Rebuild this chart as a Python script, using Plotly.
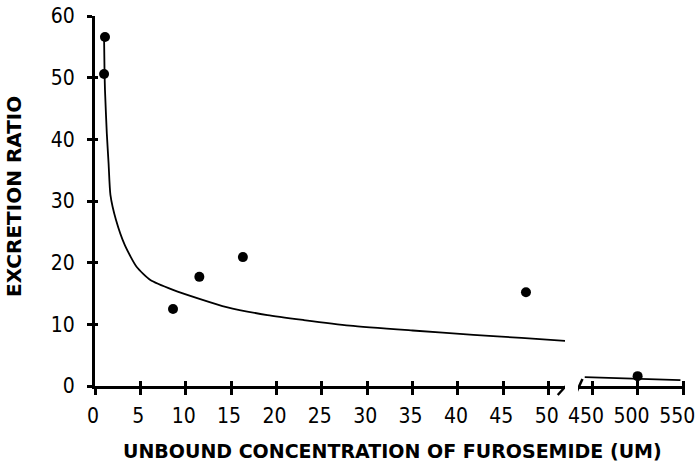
import plotly.graph_objects as go

# ---- data ----
obs_x_low = [1.1, 1.0, 8.6, 11.5, 16.3, 47.5]
obs_y_low = [56.6, 50.6, 12.5, 17.7, 20.9, 15.2]
obs_x_high = [500]
obs_y_high = [1.6]

fit_x_low = [1.0, 1.05, 1.1, 1.3, 1.5, 1.7, 2.3, 3.3, 4.6, 6.1, 8.6, 11.6, 14.5,
             19.0, 23.0, 28.1, 35.0, 41.7, 47.0, 52.0]
fit_y_low = [56.5, 51.0, 48.0, 41.0, 36.0, 31.0, 27.0, 22.8, 19.3, 17.2, 15.6,
             14.1, 12.8, 11.5, 10.7, 9.8, 9.0, 8.3, 7.8, 7.3]
fit_x_high = [442, 500, 547]
fit_y_high = [1.45, 1.2, 0.95]

x_ticks_low = [0, 5, 10, 15, 20, 25, 30, 35, 40, 45, 50]
x_ticks_high = [450, 500, 550]
y_ticks = [0, 10, 20, 30, 40, 50, 60]

y_title = "EXCRETION RATIO"
x_title = "UNBOUND CONCENTRATION OF FUROSEMIDE (UM)"

# ---- figure ----
W, H = 695, 465
TICKFONT = dict(family="Liberation Sans Narrow, DejaVu Sans Condensed, Roboto, sans-serif",
                size=21, color="black")
TITLEFONT = dict(family="DejaVu Sans, Liberation Sans, sans-serif", color="black", weight="bold")

fig = go.Figure()

fig.add_trace(go.Scatter(x=fit_x_low, y=fit_y_low, mode="lines",
                         line=dict(color="black", width=1.8, shape="spline", smoothing=0.6),
                         xaxis="x", yaxis="y", showlegend=False, hoverinfo="skip"))
fig.add_trace(go.Scatter(x=fit_x_high, y=fit_y_high, mode="lines",
                         line=dict(color="black", width=1.8),
                         xaxis="x2", yaxis="y", showlegend=False, hoverinfo="skip"))
fig.add_trace(go.Scatter(x=obs_x_low, y=obs_y_low, mode="markers",
                         marker=dict(color="black", size=10),
                         xaxis="x", yaxis="y", showlegend=False, cliponaxis=False))
fig.add_trace(go.Scatter(x=obs_x_high, y=obs_y_high, mode="markers",
                         marker=dict(color="black", size=10),
                         xaxis="x2", yaxis="y", showlegend=False, cliponaxis=False))

x_low_dom = [95 / W, 565 / W]
x_high_dom = [578 / W, 685 / W]
x_high_rng = [434.6, 552]
y_dom = [(H - 386) / H, (H - 16) / H]

common_ax = dict(showgrid=False, zeroline=False, linecolor="black", tickcolor="black",
                 tickfont=TICKFONT, ticklabeloverflow="allow", automargin=False)

fig.update_layout(
    width=W, height=H,
    margin=dict(l=0, r=0, t=0, b=0, autoexpand=False),
    paper_bgcolor="white", plot_bgcolor="white",
    xaxis=dict(domain=x_low_dom, range=[0, 51.8], tickmode="array", tickvals=x_ticks_low,
               showline=True, linewidth=3, ticks="outside", ticklen=6, tickwidth=2.5,
               anchor="y", ticklabelstandoff=3, ticklabelshift=-2, **common_ax),
    xaxis3=dict(overlaying="x", range=[0, 51.8], tickmode="array", tickvals=x_ticks_low,
                showline=False, ticks="inside", ticklen=5, tickwidth=2.5,
                showticklabels=False, anchor="y", **common_ax),
    xaxis2=dict(domain=x_high_dom, range=x_high_rng, tickmode="array", tickvals=x_ticks_high,
                showline=True, linewidth=3, ticks="outside", ticklen=6, tickwidth=2.5,
                anchor="y", ticklabelstandoff=3, ticklabelshift=-6, **common_ax),
    xaxis4=dict(overlaying="x2", range=x_high_rng, tickmode="array", tickvals=x_ticks_high,
                showline=False, ticks="inside", ticklen=5, tickwidth=2.5,
                showticklabels=False, anchor="y", **common_ax),
    yaxis=dict(domain=y_dom, range=[0, 60], tickmode="array", tickvals=y_ticks,
               showline=True, linewidth=3, ticks="outside", ticklen=5, tickwidth=2.5,
               anchor="x", ticklabelstandoff=8, **common_ax),
    yaxis2=dict(overlaying="y", range=[0, 60], tickmode="array", tickvals=y_ticks,
                showline=False, ticks="inside", ticklen=3, tickwidth=2.5,
                showticklabels=False, anchor="x", **common_ax),
)

# invisible traces so the overlay tick axes get drawn
fig.add_trace(go.Scatter(x=[None], y=[None], xaxis="x3", yaxis="y2", showlegend=False))
fig.add_trace(go.Scatter(x=[None], y=[None], xaxis="x4", yaxis="y2", showlegend=False))

# axis break marks
fig.add_shape(type="line", xref="x", yref="paper", x0=51.0, x1=52.6,
              y0=(H - 395) / H, y1=(H - 379) / H, line=dict(color="black", width=2.5))
fig.add_shape(type="line", xref="x2", yref="paper", x0=431.5, x1=439.5,
              y0=(H - 395) / H, y1=(H - 379) / H, line=dict(color="black", width=2.5))

fig.add_annotation(text=y_title, xref="paper", yref="paper", x=14 / W, y=1 - 197 / H,
                   xanchor="center", yanchor="middle", textangle=-90, showarrow=False,
                   font=dict(TITLEFONT, size=20))
fig.add_annotation(text=x_title, xref="paper", yref="paper", x=392 / W, y=1.5 / H,
                   xanchor="center", yanchor="bottom", showarrow=False,
                   font=dict(TITLEFONT, size=19))

fig.write_html("out.html")
